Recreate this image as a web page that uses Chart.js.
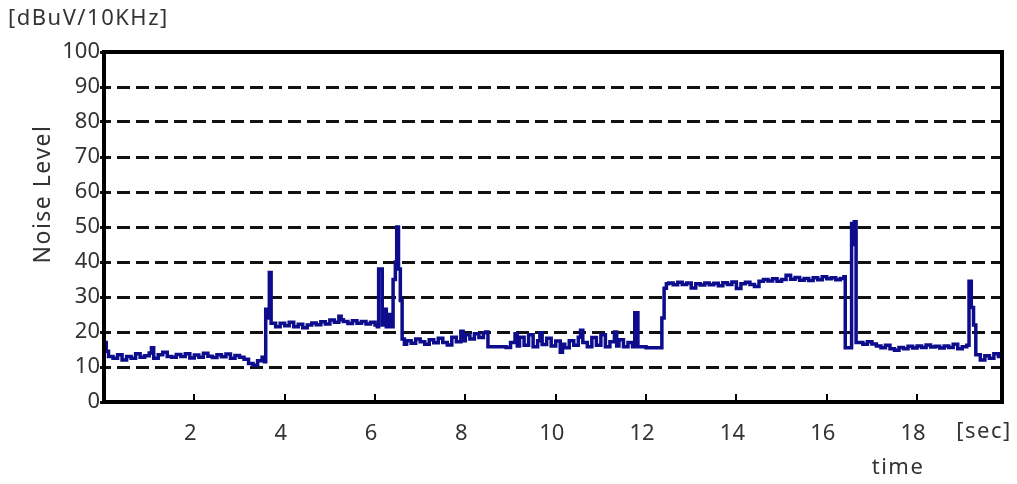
<!DOCTYPE html>
<html>
<head>
<meta charset="utf-8">
<script src="https://cdn.jsdelivr.net/npm/chart.js@4"></script>
<style>
  html, body { margin: 0; padding: 0; background: #fff; }
</style>
</head>
<body>
<canvas id="myChart" width="1017" height="484"></canvas>
<script>
// ---------------- data ----------------
var timeSec = [
  0, 0.05, 0.1, 0.2, 0.3, 0.4, 0.5, 0.6, 0.7, 0.8, 0.9, 1.0, 1.05, 1.1, 1.2, 1.3, 1.4, 1.5, 1.6, 1.7,
  1.8, 1.9, 2.0, 2.1, 2.2, 2.3, 2.4, 2.5, 2.6, 2.7, 2.8, 2.9, 3.0, 3.1, 3.2, 3.3, 3.4, 3.5, 3.55, 3.58,
  3.62, 3.66, 3.7, 3.8, 3.9, 4.0, 4.1, 4.2, 4.3, 4.4, 4.5, 4.6, 4.7, 4.8, 4.9, 5.0, 5.1, 5.2, 5.25, 5.3,
  5.4, 5.5, 5.6, 5.7, 5.8, 5.9, 6.0, 6.05, 6.08, 6.16, 6.2, 6.25, 6.3, 6.35, 6.4, 6.45, 6.48, 6.52, 6.56, 6.6,
  6.65, 6.7, 6.8, 6.9, 7.0, 7.1, 7.2, 7.3, 7.4, 7.5, 7.6, 7.7, 7.8, 7.9, 7.95, 8.0, 8.1, 8.2, 8.3, 8.4,
  8.45, 8.5, 8.7, 8.9, 9.0, 9.1, 9.15, 9.2, 9.3, 9.4, 9.5, 9.6, 9.65, 9.7, 9.8, 9.9, 10.0, 10.1, 10.15, 10.2,
  10.3, 10.4, 10.5, 10.55, 10.6, 10.7, 10.8, 10.9, 11.0, 11.1, 11.2, 11.3, 11.35, 11.4, 11.5, 11.6, 11.7, 11.75, 11.82, 12.0,
  12.3, 12.35, 12.4, 12.45, 12.5, 12.6, 12.7, 12.8, 12.9, 13.0, 13.1, 13.2, 13.3, 13.4, 13.5, 13.6, 13.7, 13.8, 13.9, 14.0,
  14.1, 14.2, 14.3, 14.4, 14.5, 14.6, 14.7, 14.8, 14.9, 15.0, 15.1, 15.2, 15.3, 15.4, 15.5, 15.6, 15.7, 15.8, 15.9, 16.0,
  16.1, 16.2, 16.3, 16.38, 16.41, 16.5, 16.55, 16.58, 16.61, 16.65, 16.7, 16.8, 16.9, 17.0, 17.1, 17.2, 17.3, 17.4, 17.5, 17.6,
  17.7, 17.8, 17.9, 18.0, 18.1, 18.2, 18.3, 18.4, 18.5, 18.6, 18.7, 18.8, 18.9, 19.0, 19.1, 19.15, 19.2, 19.25, 19.3, 19.4,
  19.5, 19.6, 19.7, 19.8, 19.88
];
var noiseLevel = [
  17, 14.5, 13, 12.5, 13.5, 12, 13, 12.5, 13.8, 12.8, 13.2, 14, 15.5, 12.5, 13.5, 14.2, 13, 12.8, 13.6, 13,
  13.8, 12.6, 13.4, 12.8, 13.9, 13.1, 12.7, 13.5, 12.9, 13.7, 12.5, 13.3, 12.8, 12.2, 11.0, 10.5, 11.8, 12.8, 11.5, 26.5,
  24, 37, 22.5, 21.5, 22.5, 21.8, 22.8, 21.5, 22.2, 21.2, 22, 22.6, 22.1, 22.9, 22.3, 23.4, 22.8, 24.5, 23.5, 23,
  22.4, 23.2, 22.5, 23, 22.3, 22.8, 22, 21.5, 38, 22, 26.5, 21.5, 25, 21.5, 35, 40, 50, 38, 29, 18,
  16.5, 17.5, 16.8, 18, 17.2, 16.5, 17.8, 16.9, 18.2, 17, 16.3, 18.5, 17.2, 20.2, 17.5, 19.2, 18, 19.5, 18.4, 19.8,
  20, 15.8, 15.8, 15.6, 17, 19.5, 16, 18.5, 16.2, 19.2, 15.8, 17.5, 19.8, 16.4, 18.2, 16, 17.4, 14.2, 16.5, 15.5,
  17.5, 16.2, 18.5, 20.5, 17, 15.8, 18.4, 16.2, 19.2, 15.8, 17.2, 20, 16, 17.8, 15.8, 17, 15.8, 25.5, 15.8, 15.5,
  15.5, 24, 32.5, 33.8, 34, 33.5, 34.2, 33.6, 34, 32.6, 33.8, 33.4, 34, 33.5, 33.9, 33.2, 34.1, 33.6, 34.3, 32.4,
  33.8, 34.2, 33.6, 33.0, 34.5, 35, 34.6, 35.2, 34.5, 35, 36.2, 35.1, 35.6, 34.8, 35.3, 34.7, 35.5, 34.9, 35.8, 35.2,
  35.5, 34.9, 35.3, 35.8, 15.5, 15.5, 51, 45, 51.5, 17, 17, 16.5, 17.2, 16.6, 16, 15.5, 16.2, 15.2, 14.8, 15.6,
  15.2, 15.9, 15.4, 16, 15.6, 16.3, 15.7, 15.9, 15.4, 16, 15.6, 16.5, 15.2, 15.8, 16.2, 34.5, 27, 22, 13.5, 12,
  13.2, 12.5, 13.8, 13, 14
];
var xTicks = [2, 4, 6, 8, 10, 12, 14, 16, 18];
var yTicks = [0, 10, 20, 30, 40, 50, 60, 70, 80, 90, 100];
var xMax = 19.88;

var points = timeSec.map(function (t, i) { return { x: t, y: noiseLevel[i] }; });

//---------------- extra text, frame and inner x ticks ----------------
var extras = {
  id: 'extras',
  afterDraw: function (chart) {
    var ctx = chart.ctx, a = chart.chartArea;
    ctx.save();
    ctx.strokeStyle = '#000';
    ctx.lineWidth = 4;
    ctx.strokeRect(a.left, a.top, a.right - a.left, a.bottom - a.top);

    var xs = chart.scales.x;
    ctx.lineWidth = 2;
    xTicks.forEach(function (v) {
      var px = Math.round(xs.getPixelForValue(v));
      ctx.beginPath();
      ctx.moveTo(px, a.bottom);
      ctx.lineTo(px, a.bottom - 8);
      ctx.stroke();
    });

    ctx.fillStyle = '#333';
    ctx.font = '22px "Noto Sans"';
    ctx.textBaseline = 'middle';
    ctx.letterSpacing = '1.5px';
    ctx.textAlign = 'left';
    ctx.fillText('[dBuV/10KHz]', 8, 19);
    ctx.textAlign = 'center';
    ctx.fillText('[sec]', 984, 432);
    ctx.fillText('time', 898, 468);
    ctx.font = '23px "Noto Sans"';
    ctx.letterSpacing = '1.5px';
    ctx.translate(43, 194);
    ctx.rotate(-Math.PI / 2);
    ctx.fillText('Noise Level', 0, 0);
    ctx.restore();
  }
};

Chart.defaults.font.family = '"Noto Sans", sans-serif';
Chart.defaults.font.size = 22;
Chart.defaults.color = '#333';

var myChart = new Chart(document.getElementById('myChart'), {
  type: 'line',
  data: {
    datasets: [{
      data: points,
      borderColor: '#0c0c8c',
      borderWidth: 3.5,
      pointRadius: 0,
      stepped: true,
      fill: false
    }]
  },
  options: {
    responsive: false,
    animation: false,
    layout: { padding: { top: 52, right: 15, left: 0, bottom: 0 } },
    plugins: { legend: { display: false }, tooltip: { enabled: false } },
    scales: {
      x: {
        type: 'linear',
        min: 0,
        max: xMax,
        afterBuildTicks: function (s) { s.ticks = xTicks.map(function (v) { return { value: v }; }); },
        afterFit: function (s) { s.height = 82; },
        grid: { drawOnChartArea: false, drawTicks: false },
        border: { display: false },
        ticks: { padding: 19, labelOffset: -4, maxRotation: 0, autoSkip: false,
                 callback: function (v) { return String(v); } }
      },
      y: {
        min: 0,
        max: 100,
        afterBuildTicks: function (s) { s.ticks = yTicks.map(function (v) { return { value: v }; }); },
        afterFit: function (s) { s.width = 104; },
        grid: {
          color: function (c) { return (c.tick && (c.tick.value === 0 || c.tick.value === 100)) ? 'rgba(0,0,0,0)' : '#111'; },
          lineWidth: 3,
          tickLength: 4,
          tickColor: '#111',
          tickWidth: 3
        },
        border: { display: false, dash: [13, 6], dashOffset: 6 },
        ticks: { padding: 0, autoSkip: false }
      }
    }
  },
  plugins: [extras]
});
</script>
</body>
</html>
